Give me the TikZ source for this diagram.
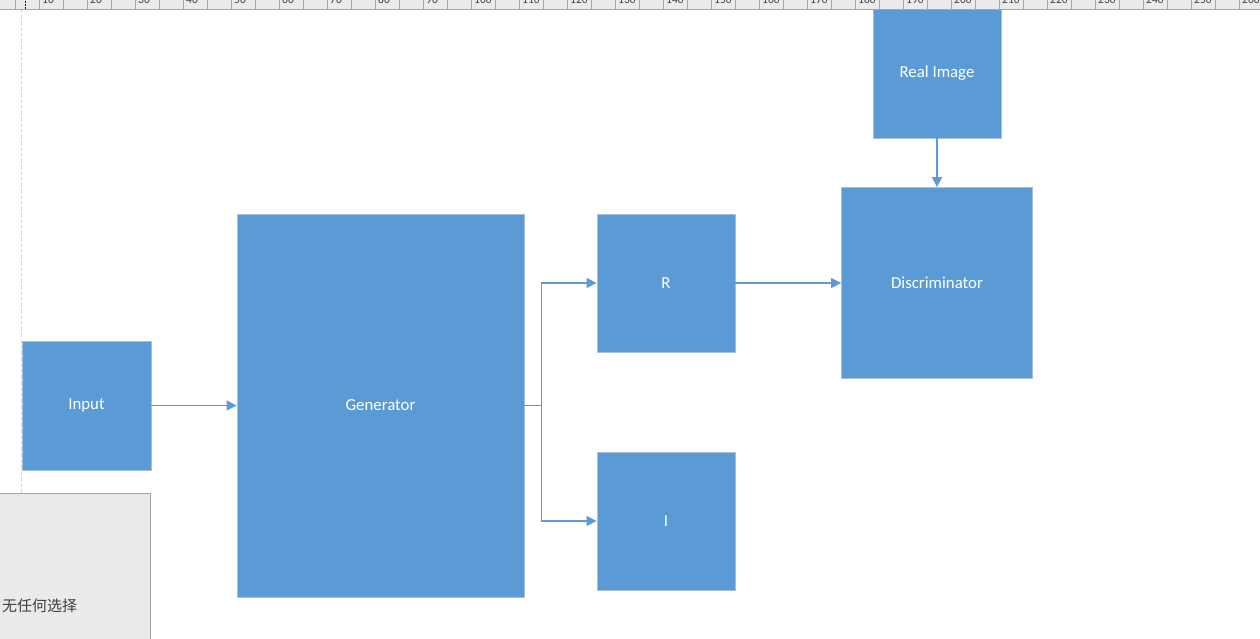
\documentclass[tikz,border=0pt]{standalone}
\usepackage{fontspec}
\setmainfont{Carlito}
\newfontfamily\cjkfont{Noto Sans CJK SC}
\usetikzlibrary{arrows.meta}
\definecolor{boxblue}{HTML}{5B9BD5}
\definecolor{boxedge}{HTML}{A9C0DA}
\definecolor{linkblue}{HTML}{5F9AD3}
\definecolor{rulerbg}{HTML}{EBEBEB}
\definecolor{rulerline}{HTML}{A6A6A6}
\definecolor{panelbg}{HTML}{EAEAEA}
\tikzset{
  box/.style={rectangle, fill=boxblue, draw=boxedge, line width=0.8pt, inner sep=0pt,
    text=white, font=\fontsize{16.8}{20}\selectfont},
  link/.style={draw=linkblue, line width=1.4pt, -{Triangle[length=10pt,width=10pt]}},
  tick/.style={draw=rulerline, line width=0.8pt},
  ticklabel/.style={font=\fontsize{11.5}{12}\selectfont, text=black!75, anchor=base west, inner sep=0pt}
}
\begin{document}
\begin{tikzpicture}[x=1pt,y=-1pt]
\useasboundingbox (0,0) rectangle (1260,638);
\fill[white] (0,0) rectangle (1260,638);
% page guide
\draw[black!15, line width=0.8pt, dash pattern=on 4pt off 2pt] (21.5,9) -- (21.5,493);
% boxes
\node[box, minimum width=128pt, minimum height=134pt, text height=12pt, text depth=0pt] (real) at (937,71) {Real Image};
\node[box, minimum width=191pt, minimum height=191pt] (disc) at (937,283) {Discriminator};
\node[box, minimum width=138pt, minimum height=138pt] (R) at (666,283) {R};
\node[box, minimum width=138pt, minimum height=138pt] (I) at (666,521) {I};
\node[box, minimum width=287pt, minimum height=383pt] (gen) at (380.5,405.5) {Generator};
\node[box, minimum width=129pt, minimum height=129pt] (input) at (86.5,405.5) {Input};
% connectors
\draw[link] (input.east) -- (input.east -| gen.west);
\draw[link] (gen.east) -- ++(17,0) |- (R.west);
\draw[link] (gen.east) -- ++(17,0) |- (I.west);
\draw[link] (R.east) -- (R.east -| disc.west);
\draw[link] (real.south) -- (real.south |- disc.north);
% ruler
\begin{scope}
\clip (0,0) rectangle (1260,9.5);
\fill[rulerbg] (0,0) rectangle (1260,9);
\foreach \k in {0,...,51} {
  \draw[tick] ({15.5+24*\k},0) -- ({15.5+24*\k},9);
}
\foreach \k in {0,...,25} {
  \pgfmathtruncatemacro{\v}{10*(\k+1)}
  \node[ticklabel] at ({42+48*\k},3) {\v};
}
\draw[blue!60!black, line width=1pt, dash pattern=on 1.5pt off 1.5pt] (25.5,1) -- (25.5,9);
\end{scope}
\draw[rulerline, line width=1pt] (0,9.5) -- (1260,9.5);
% status panel
\node[rectangle, fill=panelbg, draw=rulerline, line width=0.8pt, minimum width=151pt, minimum height=146pt, inner sep=0pt, anchor=north west] (panel) at (-1,493) {};
\node[anchor=base west, inner sep=0pt, font=\cjkfont\fontsize{15}{16}\selectfont, text=black!75] (status) at (2,611) {无任何选择};
\end{tikzpicture}
\end{document}
